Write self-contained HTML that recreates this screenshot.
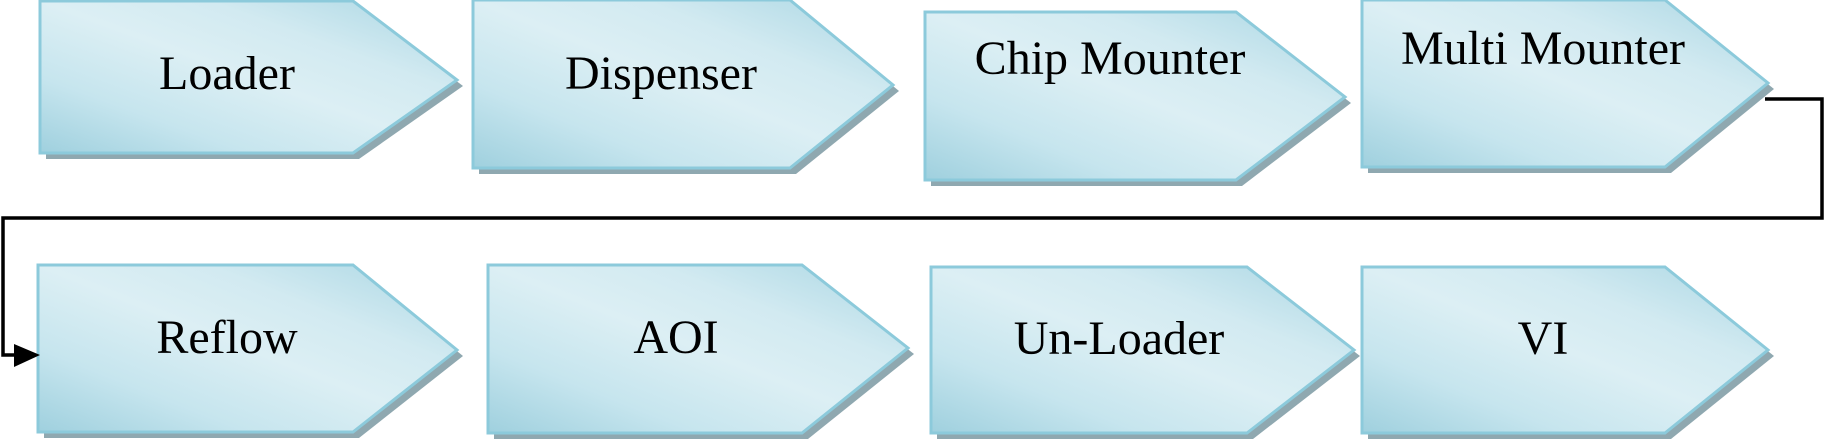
<!DOCTYPE html>
<html><head><meta charset="utf-8"><style>
html,body{margin:0;padding:0;background:#fff;width:1839px;height:442px;overflow:hidden}
text{font-family:"Liberation Serif",serif;font-size:48px;fill:#000}
</style></head><body>
<svg width="1839" height="442" viewBox="0 0 1839 442" xmlns="http://www.w3.org/2000/svg">
<defs>
<linearGradient id="g" x1="0" y1="1" x2="1" y2="0">
<stop offset="0" stop-color="#9fd0de"/>
<stop offset="0.25" stop-color="#c6e5ee"/>
<stop offset="0.5" stop-color="#dcEFF4"/>
<stop offset="0.7" stop-color="#d2eaf1"/>
<stop offset="1" stop-color="#a9d6e3"/>
</linearGradient>
</defs>
<g stroke="#8ccadb" stroke-width="3">
<polygon fill="#8fa8b0" stroke="none" points="46,7 359,7 463,86 359,159 46,159"/>
<polygon fill="url(#g)" points="40,1 353,1 457,80 353,153 40,153"/>
<polygon fill="#8fa8b0" stroke="none" points="479,6 796,6 899,91 796,174 479,174"/>
<polygon fill="url(#g)" points="473,0 790,0 893,85 790,168 473,168"/>
<polygon fill="#8fa8b0" stroke="none" points="931,18 1242,18 1351,103 1242,186 931,186"/>
<polygon fill="url(#g)" points="925,12 1236,12 1345,97 1236,180 925,180"/>
<polygon fill="#8fa8b0" stroke="none" points="1368,6 1671,6 1774,89 1671,173 1368,173"/>
<polygon fill="url(#g)" points="1362,0 1665,0 1768,83 1665,167 1362,167"/>
<polygon fill="#8fa8b0" stroke="none" points="44,271 359,271 463,356 359,438 44,438"/>
<polygon fill="url(#g)" points="38,265 353,265 457,350 353,432 38,432"/>
<polygon fill="#8fa8b0" stroke="none" points="494,271 808,271 914,354 808,439 494,439"/>
<polygon fill="url(#g)" points="488,265 802,265 908,348 802,433 488,433"/>
<polygon fill="#8fa8b0" stroke="none" points="937,273 1253,273 1360,356 1253,439 937,439"/>
<polygon fill="url(#g)" points="931,267 1247,267 1354,350 1247,433 931,433"/>
<polygon fill="#8fa8b0" stroke="none" points="1368,273 1671,273 1774,356 1671,439 1368,439"/>
<polygon fill="url(#g)" points="1362,267 1665,267 1768,350 1665,433 1362,433"/>
</g>
<polyline points="1765,99 1822,99 1822,218 3,218 3,355 20,355" fill="none" stroke="#000" stroke-width="3.5"/>
<polygon points="14,344 40,355 14,367" fill="#000"/>
<g text-anchor="middle">
<text x="227" y="89">Loader</text>
<text x="661" y="89">Dispenser</text>
<text x="1110" y="74">Chip Mounter</text>
<text x="1543" y="64">Multi Mounter</text>
<text x="227" y="353">Reflow</text>
<text x="676" y="353">AOI</text>
<text x="1119" y="354">Un-Loader</text>
<text x="1543" y="354">VI</text>
</g>
</svg>
</body></html>
